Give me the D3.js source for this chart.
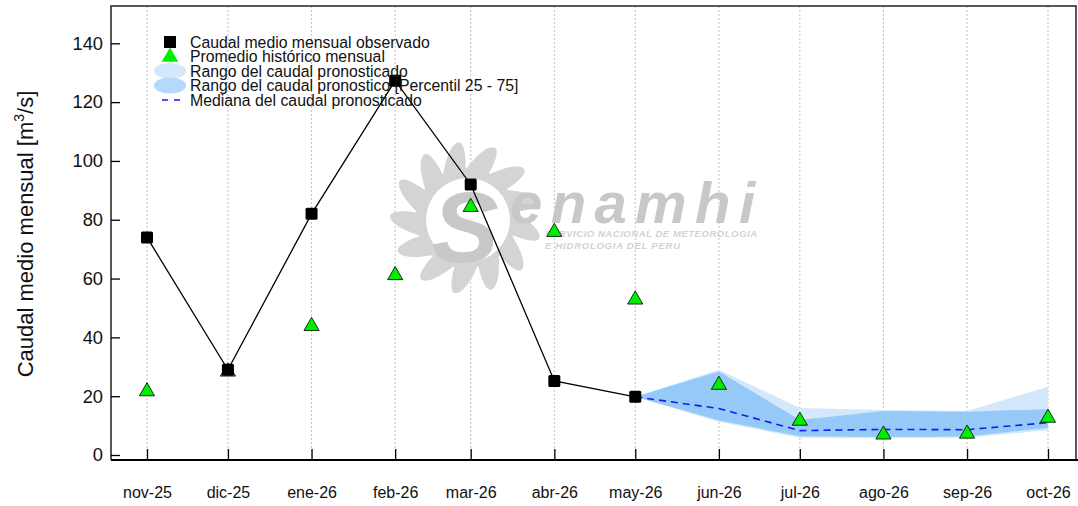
<!DOCTYPE html>
<html>
<head>
<meta charset="utf-8">
<script src="https://cdn.jsdelivr.net/npm/d3@7"></script>
<style>
  body { margin: 0; background: #fff; }
  svg { font-family: "Liberation Sans", Arial, sans-serif; }
</style>
</head>
<body>
<svg id="chart" width="1078" height="506"></svg>
<script>
// month labels and dates (first of each month)
const monthLabels = ["nov-25", "dic-25", "ene-26", "feb-26", "mar-26", "abr-26",
                     "may-26", "jun-26", "jul-26", "ago-26", "sep-26", "oct-26"];
const monthDates = monthLabels.map((m, i) => new Date(2025, 10 + i, 1));

// observed monthly flow (nov-25 .. may-26)
const observed = [74, 29, 82, 127.3, 92, 25.2, 19.8];
// historical monthly average
const historical = [22.3, 29, 44.5, 61.8, 85, 76.5, 53.5, 24.5, 12.3, 7.6, 7.9, 13.3];
// forecast (may-26 .. oct-26)
const fcMin = [19.8, 11.3, 5.9, 5.8, 5.9, 8.4];
const fcMax = [19.8, 29, 16, 15.3, 15, 23.2];
const fcP25 = [19.8, 11.7, 6.4, 6.1, 6.3, 9.2];
const fcP75 = [19.8, 28.4, 11.9, 15, 14.7, 15.6];
const fcMedian = [19.8, 15.8, 8.3, 8.7, 8.6, 11];
const yTicks = [0, 20, 40, 60, 80, 100, 120, 140];

function getConfig() {
  let width = 1078;
  let height = 506;
  let frame = { left: 111, right: 1076, top: 6, bottom: 460 };
  let container = d3.select("#chart");
  return { width, height, frame, container };
}

function getScales(config) {
  let xScale = d3.scaleTime()
    .domain([monthDates[0], monthDates[11]])
    .range([147, 1048]);
  let yScale = d3.scaleLinear()
    .domain([0, 140])
    .range([455, 43.3]);
  return { xScale, yScale };
}

function drawWatermark(svg) {
  let g = svg.append("g").attr("fill", "#d4d4d4");
  // sun with flame-like rays
  let cx = 466, cy = 218;
  let pts = [];
  let n = 13;
  for (let i = 0; i < n * 8; i++) {
    let a = (i / (n * 8)) * 2 * Math.PI;
    let ph = (i % 8) / 8;
    let r = 50 + 26 * Math.pow(Math.sin(ph * Math.PI), 1.3);
    pts.push([a + 0.14 * Math.sin(ph * Math.PI), r]);
  }
  g.append("path")
    .attr("transform", `translate(${cx},${cy})`)
    .attr("d", d3.lineRadial().curve(d3.curveCardinalClosed)(pts));
  g.append("circle").attr("cx", cx + 2).attr("cy", cy + 2).attr("r", 42).attr("fill", "#fff");
  g.append("text")
    .attr("x", 432).attr("y", 262)
    .attr("font-size", 100).attr("font-weight", "bold").attr("font-style", "italic")
    .attr("fill", "#c8c8c8")
    .text("S");
  g.append("text")
    .attr("x", 510).attr("y", 223)
    .attr("font-size", 58).attr("font-weight", "bold").attr("font-style", "italic")
    .attr("fill", "#c8c8c8")
    .attr("textLength", 245)
    .text("enamhi");
  g.append("text")
    .attr("x", 545).attr("y", 237)
    .attr("font-size", 9.5).attr("font-weight", "bold").attr("font-style", "italic")
    .attr("fill", "#d2d2d2")
    .attr("textLength", 212)
    .text("SERVICIO NACIONAL DE METEOROLOGIA");
  g.append("text")
    .attr("x", 545).attr("y", 249)
    .attr("font-size", 9.5).attr("font-weight", "bold").attr("font-style", "italic")
    .attr("fill", "#d2d2d2")
    .attr("textLength", 135)
    .text("E HIDROLOGIA DEL PERU");
}

function drawChart() {
  let config = getConfig();
  let { frame, container } = config;
  let { xScale, yScale } = getScales(config);

  // vertical dotted grid
  container.append("g")
    .selectAll("line")
    .data(monthDates)
    .join("line")
    .attr("x1", d => xScale(d)).attr("x2", d => xScale(d))
    .attr("y1", frame.top).attr("y2", frame.bottom)
    .attr("stroke", "#c0c0c0")
    .attr("stroke-width", 1)
    .attr("stroke-dasharray", "2,2");

  drawWatermark(container);

  let fcDates = monthDates.slice(6);
  let area = (lo, hi) => d3.area()
    .x((d, i) => xScale(fcDates[i]))
    .y0((d, i) => yScale(lo[i]))
    .y1((d, i) => yScale(hi[i]));

  container.append("path")
    .attr("d", area(fcMin, fcMax)(fcDates))
    .attr("fill", "#d3e8fc");
  container.append("path")
    .attr("d", area(fcP25, fcP75)(fcDates))
    .attr("fill", "#95c9f8");

  container.append("path")
    .attr("d", d3.line().x((d, i) => xScale(fcDates[i])).y(d => yScale(d))(fcMedian))
    .attr("fill", "none")
    .attr("stroke", "#1a1aee")
    .attr("stroke-width", 1.6)
    .attr("stroke-dasharray", "7,5");

  // observed line
  container.append("path")
    .attr("d", d3.line().x((d, i) => xScale(monthDates[i])).y(d => yScale(d))(observed))
    .attr("fill", "none")
    .attr("stroke", "#000")
    .attr("stroke-width", 1.3);

  let tri = d3.symbol().type(d3.symbolTriangle).size(100);

  container.append("g")
    .selectAll("path")
    .data(historical)
    .join("path")
    .attr("transform", (d, i) => `translate(${xScale(monthDates[i])},${yScale(d) + 2})`)
    .attr("d", tri)
    .attr("fill", "#00ee00")
    .attr("stroke", "#000")
    .attr("stroke-width", 0.8);

  container.append("g")
    .selectAll("rect")
    .data(observed)
    .join("rect")
    .attr("x", (d, i) => xScale(monthDates[i]) - 6)
    .attr("y", d => yScale(d) - 6)
    .attr("width", 12).attr("height", 12)
    .attr("rx", 1.5)
    .attr("fill", "#000");

  // frame
  container.append("path")
    .attr("d", `M${frame.left},${frame.bottom}V${frame.top}H${frame.right}V${frame.bottom}`)
    .attr("fill", "none")
    .attr("stroke", "#222")
    .attr("stroke-width", 1.5);
  container.append("line")
    .attr("x1", frame.left).attr("x2", 1078)
    .attr("y1", frame.bottom).attr("y2", frame.bottom)
    .attr("stroke", "#000").attr("stroke-width", 2);

  // y axis
  let yAxis = container.append("g")
    .attr("transform", `translate(${frame.left},0)`)
    .call(d3.axisLeft(yScale).tickValues(yTicks).tickSize(-9).tickPadding(8));
  yAxis.select(".domain").remove();
  yAxis.selectAll(".tick line").attr("stroke", "#000").attr("stroke-width", 1.3);
  yAxis.selectAll(".tick text")
    .attr("font-size", 18.3)
    .attr("font-family", "Liberation Sans, Arial, sans-serif")
    .attr("fill", "#111");

  // x axis
  let xAxis = container.append("g")
    .attr("transform", `translate(0,${frame.bottom})`)
    .call(d3.axisBottom(xScale).tickValues(monthDates)
      .tickFormat((d, i) => monthLabels[i]).tickSize(-11).tickPadding(27));
  xAxis.select(".domain").remove();
  xAxis.selectAll(".tick line").attr("stroke", "#000").attr("stroke-width", 1.3);
  xAxis.selectAll(".tick text")
    .attr("font-size", 16)
    .attr("font-family", "Liberation Sans, Arial, sans-serif")
    .attr("fill", "#111");

  // y title
  let yt = container.append("text")
    .attr("transform", "translate(33,234) rotate(-90)")
    .attr("text-anchor", "middle")
    .attr("font-size", 22)
    .attr("fill", "#111");
  yt.append("tspan").text("Caudal medio mensual  [m");
  yt.append("tspan").attr("font-size", 14).attr("dy", -9).text("3");
  yt.append("tspan").attr("dy", 9).text("/s]");

  // legend
  let legendItems = ["Caudal medio mensual observado", "Promedio histórico mensual",
    "Rango del caudal pronosticado", "Rango del caudal pronostico [Percentil 25 - 75]",
    "Mediana del caudal pronosticado"];
  let ly = [42, 56, 71, 85.5, 100];
  let lg = container.append("g");
  lg.selectAll("text")
    .data(legendItems)
    .join("text")
    .attr("x", 190).attr("y", (d, i) => ly[i] + 5.5)
    .attr("font-size", 15.8)
    .attr("fill", "#111")
    .text(d => d);
  lg.append("rect").attr("x", 164).attr("y", ly[0] - 6).attr("width", 12).attr("height", 12).attr("fill", "#000");
  lg.append("path").attr("transform", `translate(170,${ly[1] + 1})`)
    .attr("d", d3.symbol().type(d3.symbolTriangle).size(120)).attr("fill", "#00ee00");
  lg.append("ellipse").attr("cx", 170).attr("cy", ly[2]).attr("rx", 16).attr("ry", 8).attr("fill", "#d3e8fc");
  lg.append("ellipse").attr("cx", 170).attr("cy", ly[3]).attr("rx", 16).attr("ry", 8).attr("fill", "#b5d8fb");
  lg.append("line").attr("x1", 162).attr("x2", 180).attr("y1", ly[4]).attr("y2", ly[4])
    .attr("stroke", "#1a1aee").attr("stroke-width", 1.6).attr("stroke-dasharray", "6,6");
}

drawChart();
</script>
</body>
</html>
